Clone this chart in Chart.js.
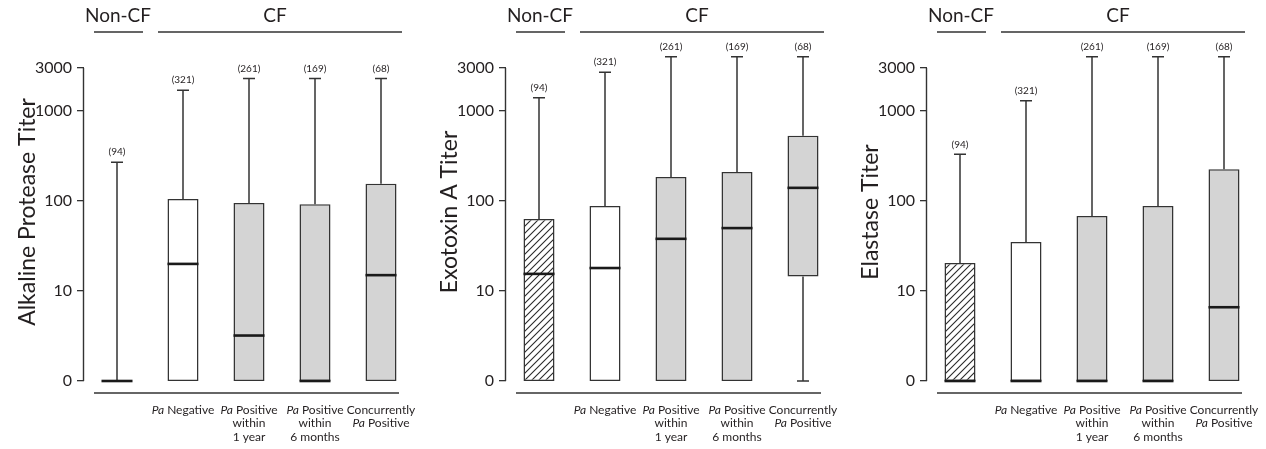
<!DOCTYPE html>
<html><head><meta charset="utf-8">
<script src="https://cdn.jsdelivr.net/npm/chart.js@4.4.1/dist/chart.umd.min.js"></script>
<style>
html,body{margin:0;padding:0;background:#fff;width:1266px;height:449px;overflow:hidden}
.panel{position:absolute;top:0;width:420px;height:449px}
</style></head><body>
<div class="panel" style="left:0"><canvas id="c1" width="420" height="449"></canvas></div>
<div class="panel" style="left:422px"><canvas id="c2" width="420" height="449"></canvas></div>
<div class="panel" style="left:843px"><canvas id="c3" width="420" height="449"></canvas></div>
<script>
// ---- data ----
const categories = ['Non-CF', 'Pa Negative', 'Pa Positive within 1 year', 'Pa Positive within 6 months', 'Concurrently Pa Positive'];
const groupLabels = ['Non-CF', 'CF'];
const counts = [94, 321, 261, 169, 68];
const tickValues = [0, 10, 100, 1000, 3000];
const tickLabels = ['0', '10', '100', '1000', '3000'];

const proteaseMin    = [0, 0, 0, 0, 0];
const proteaseQ1     = [0, 0, 0, 0, 0];
const proteaseMedian = [0, 20, 3.2, 0, 15];
const proteaseQ3     = [0, 105, 95, 92, 155];
const proteaseMax    = [270, 1700, 2300, 2300, 2300];

const exotoxinMin    = [0, 0, 0, 0, 0];
const exotoxinQ1     = [0, 0, 0, 0, 14.5];
const exotoxinMedian = [15.5, 18, 38, 50, 140];
const exotoxinQ3     = [63, 88, 185, 210, 530];
const exotoxinMax    = [1400, 2700, 4000, 4000, 4000];

const elastaseMin    = [0, 0, 0, 0, 0];
const elastaseQ1     = [0, 0, 0, 0, 0];
const elastaseMedian = [0, 0, 0, 0, 6.6];
const elastaseQ3     = [20.5, 35, 68, 88, 225];
const elastaseMax    = [330, 1300, 4000, 4000, 4000];

// category label lines: [text, italic]
const categoryLines = [
  [],
  [[['Pa', true], [' Negative', false]]],
  [[['Pa', true], [' Positive', false]], [['within', false]], [['1 year', false]]],
  [[['Pa', true], [' Positive', false]], [['within', false]], [['6 months', false]]],
  [[['Concurrently', false]], [['Pa', true], [' Positive', false]]]
];

// ---- helpers ----
const INK = '#231f20';
const LINE = '#333333';
const FONT = 'Lato';
const pv = v => Math.max(v, 1); // "0" titer is plotted at the bottom of the log axis

function makeHatch() {
  const s = 7;
  const c = document.createElement('canvas');
  c.width = s; c.height = s;
  const g = c.getContext('2d');
  g.fillStyle = '#ffffff'; g.fillRect(0, 0, s, s);
  g.strokeStyle = '#2a2a2a'; g.lineWidth = 1.1;
  g.beginPath();
  g.moveTo(-1, s + 1); g.lineTo(s + 1, -1);
  g.moveTo(-1, 1); g.lineTo(1, -1);
  g.moveTo(s - 1, s + 1); g.lineTo(s + 1, s - 1);
  g.stroke();
  return document.createElement('canvas').getContext('2d').createPattern(c, 'repeat');
}

function drawMixed(ctx, segs, cx, cy, size) {
  let total = 0;
  const widths = segs.map(([t, it]) => {
    ctx.font = (it ? 'italic ' : '') + size + 'px ' + FONT;
    const w = ctx.measureText(t).width; total += w; return w;
  });
  ctx.textAlign = 'left';
  let x = cx - total / 2;
  segs.forEach(([t, it], k) => {
    ctx.font = (it ? 'italic ' : '') + size + 'px ' + FONT;
    ctx.fillText(t, x, cy);
    x += widths[k];
  });
  ctx.textAlign = 'center';
}

function boxPlugin(stats, title) {
  return {
    id: 'boxExtras',
    afterDatasetsDraw(chart) {
      const ctx = chart.ctx;
      const y = chart.scales.y;
      const meta = chart.getDatasetMeta(0);
      const left = chart.chartArea.left;
      ctx.save();
      // whiskers
      ctx.strokeStyle = LINE; ctx.lineWidth = 1.5; ctx.lineCap = 'butt';
      meta.data.forEach((bar, i) => {
        const x = bar.x;
        const yMax = y.getPixelForValue(pv(stats.max[i]));
        const yQ3 = y.getPixelForValue(pv(stats.q3[i]));
        const yQ1 = y.getPixelForValue(pv(stats.q1[i]));
        const yMin = y.getPixelForValue(pv(stats.min[i]));
        ctx.beginPath();
        if (stats.max[i] > stats.q3[i]) {
          ctx.moveTo(x, yQ3); ctx.lineTo(x, yMax);
          ctx.moveTo(x - 6, yMax); ctx.lineTo(x + 6, yMax);
        }
        if (stats.min[i] < stats.q1[i]) {
          ctx.moveTo(x, yQ1); ctx.lineTo(x, yMin);
          ctx.moveTo(x - 6, yMin); ctx.lineTo(x + 6, yMin);
        }
        ctx.stroke();
      });
      // medians
      ctx.strokeStyle = '#1a1a1a'; ctx.lineWidth = 2.6;
      meta.data.forEach((bar, i) => {
        const ym = y.getPixelForValue(pv(stats.median[i]));
        const hw = bar.width / 2;
        ctx.beginPath(); ctx.moveTo(bar.x - hw, ym); ctx.lineTo(bar.x + hw, ym); ctx.stroke();
      });
      // counts
      ctx.fillStyle = INK; ctx.textAlign = 'center'; ctx.textBaseline = 'middle';
      ctx.font = '10px ' + FONT;
      meta.data.forEach((bar, i) => {
        const yMax = y.getPixelForValue(pv(stats.max[i]));
        ctx.fillText('(' + counts[i] + ')', bar.x, yMax - 10);
      });
      // y axis line (0 .. 3000)
      ctx.strokeStyle = LINE; ctx.lineWidth = 1.4;
      const y0 = y.getPixelForValue(pv(tickValues[0]));
      const yTop = y.getPixelForValue(pv(tickValues[tickValues.length - 1]));
      ctx.beginPath(); ctx.moveTo(left - 0.5, y0); ctx.lineTo(left - 0.5, yTop); ctx.stroke();
      // baseline under boxes
      ctx.beginPath(); ctx.moveTo(left + 10, y0 + 12); ctx.lineTo(left + 315, y0 + 12); ctx.stroke();
      // group headers
      ctx.lineWidth = 1.3;
      ctx.beginPath();
      ctx.moveTo(left + 10, 32); ctx.lineTo(left + 59, 32);
      ctx.moveTo(left + 74, 32); ctx.lineTo(left + 318, 32);
      ctx.stroke();
      ctx.font = '19px ' + FONT;
      ctx.fillText(groupLabels[0], left + 34, 16);
      ctx.fillText(groupLabels[1], left + 191, 16);
      // category labels
      meta.data.forEach((bar, i) => {
        categoryLines[i].forEach((segs, j) => {
          drawMixed(ctx, segs, bar.x, 410 + j * 13.5, 12);
        });
      });
      // y title
      ctx.save();
      ctx.translate(35, 212);
      ctx.rotate(-Math.PI / 2);
      ctx.textAlign = 'center'; ctx.textBaseline = 'alphabetic';
      ctx.font = '23px ' + FONT;
      ctx.fillText(title, 0, 0);
      ctx.restore();
      ctx.restore();
    }
  };
}

function buildPanel(id, title, stats, fills) {
  const ctx = document.getElementById(id).getContext('2d');
  return new Chart(ctx, {
    type: 'bar',
    data: {
      labels: categories,
      datasets: [{
        data: categories.map((c, i) => [pv(stats.q1[i]), pv(stats.q3[i])]),
        backgroundColor: fills,
        borderColor: LINE,
        borderWidth: 1.5,
        borderSkipped: false,
        barPercentage: 0.47,
        categoryPercentage: 1
      }]
    },
    options: {
      responsive: false, animation: false, devicePixelRatio: 1,
      layout: { padding: { left: 0, right: 6, top: 30, bottom: 68 } },
      plugins: { legend: { display: false }, tooltip: { enabled: false } },
      scales: {
        x: { display: false, offset: true },
        y: {
          type: 'logarithmic', min: 1, max: Math.pow(10, 3.9),
          afterBuildTicks: s => { s.ticks = tickValues.map(v => ({ value: pv(v) })); },
          afterFit: s => { s.width = 84; },
          ticks: {
            callback: (v, i) => tickLabels[i],
            font: { family: FONT, size: 16 }, color: INK, padding: 5, autoSkip: false
          },
          grid: { drawOnChartArea: false, drawTicks: true, tickLength: 7, color: LINE, lineWidth: 1.3 },
          border: { display: false }
        }
      }
    },
    plugins: [boxPlugin(stats, title)]
  });
}

function start() {
  const hatch = makeHatch();
  const gray = '#d4d4d4';
  buildPanel('c1', 'Alkaline Protease Titer',
    { min: proteaseMin, q1: proteaseQ1, median: proteaseMedian, q3: proteaseQ3, max: proteaseMax },
    ['#ffffff', '#ffffff', gray, gray, gray]);
  buildPanel('c2', 'Exotoxin A Titer',
    { min: exotoxinMin, q1: exotoxinQ1, median: exotoxinMedian, q3: exotoxinQ3, max: exotoxinMax },
    [hatch, '#ffffff', gray, gray, gray]);
  buildPanel('c3', 'Elastase Titer',
    { min: elastaseMin, q1: elastaseQ1, median: elastaseMedian, q3: elastaseQ3, max: elastaseMax },
    [hatch, '#ffffff', gray, gray, gray]);
}

Promise.all([
  document.fonts.load('16px Lato'),
  document.fonts.load('italic 12px Lato')
]).then(start, start);
</script>
</body></html>
